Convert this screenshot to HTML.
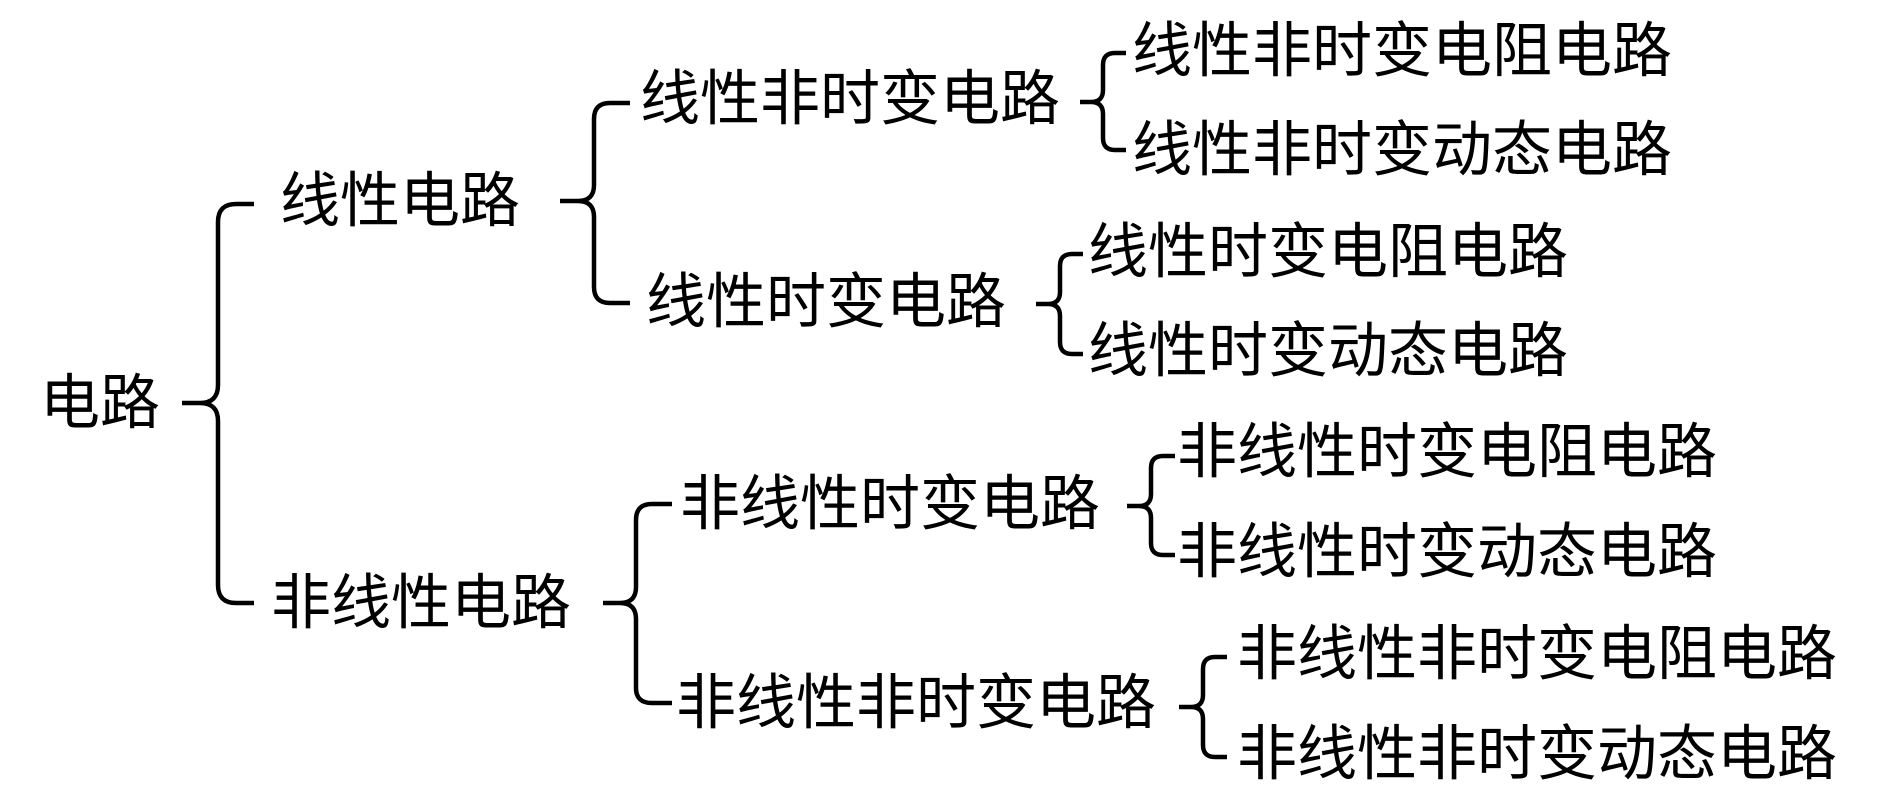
<!DOCTYPE html>
<html><head><meta charset="utf-8"><style>
html,body{margin:0;padding:0;background:#fff;}
svg{display:block}
text{font-family:"Liberation Sans","Noto Sans CJK SC",sans-serif;font-size:60px;fill:#000;dominant-baseline:central}
path{fill:none;stroke:#000;stroke-width:4.5;stroke-linecap:butt}
</style></head><body>
<svg width="1890" height="810" viewBox="0 0 1890 810" xmlns="http://www.w3.org/2000/svg">
<path d="M182 403 H200 Q218 403 218 385 V222 Q218 204 236 204 H254 M200 403 Q218 403 218 421 V585 Q218 603 236 603 H254"/>
<path d="M560 201 H578 Q594 201 594 185 V119 Q594 103 610 103 H630 M578 201 Q594 201 594 217 V287 Q594 303 610 303 H630"/>
<path d="M603 603 H620 Q636 603 636 619 V688 Q636 703 652 703 H672 M620 603 Q636 603 636 587 V520 Q636 504 652 504 H672"/>
<path d="M1080 102 H1091 Q1103 102 1103 90 V65 Q1103 53 1115 53 H1126 M1091 102 Q1103 102 1103 114 V138 Q1103 150 1115 150 H1126"/>
<path d="M1036 304 H1048 Q1060 304 1060 292 V266 Q1060 254 1072 254 H1083 M1048 304 Q1060 304 1060 316 V342 Q1060 354 1072 354 H1083"/>
<path d="M1127 506 H1139 Q1151 506 1151 494 V468 Q1151 456 1163 456 H1175 M1139 506 Q1151 506 1151 518 V543 Q1151 555 1163 555 H1175"/>
<path d="M1179 707 H1191 Q1203 707 1203 695 V669 Q1203 657 1215 657 H1227 M1191 707 Q1203 707 1203 719 V745 Q1203 757 1215 757 H1227"/>
<text x="40" y="403">电路</text>
<text x="280" y="201">线性电路</text>
<text x="271" y="603">非线性电路</text>
<text x="640" y="99">线性非时变电路</text>
<text x="646" y="302">线性时变电路</text>
<text x="680" y="504">非线性时变电路</text>
<text x="676" y="703">非线性非时变电路</text>
<text x="1132" y="51">线性非时变电阻电路</text>
<text x="1132" y="150">线性非时变动态电路</text>
<text x="1088" y="252">线性时变电阻电路</text>
<text x="1088" y="351">线性时变动态电路</text>
<text x="1177" y="452">非线性时变电阻电路</text>
<text x="1177" y="552">非线性时变动态电路</text>
<text x="1237" y="654">非线性非时变电阻电路</text>
<text x="1237" y="754">非线性非时变动态电路</text>
</svg>
</body></html>
